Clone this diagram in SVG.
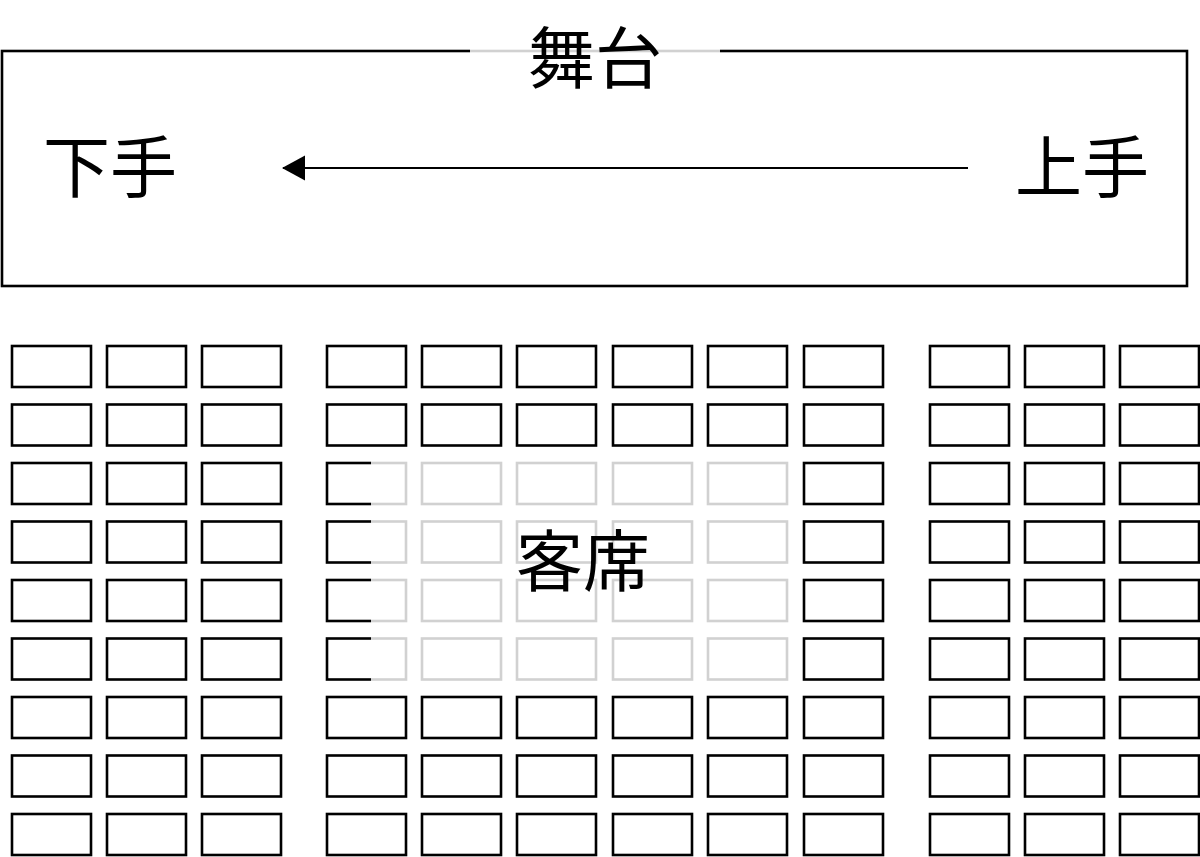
<svg xmlns="http://www.w3.org/2000/svg" xmlns:xlink="http://www.w3.org/1999/xlink" width="1200" height="857" viewBox="0 0 1200 857">
<style>
.seat{fill:none;stroke:#000;stroke-width:2.6}
.frame{fill:none;stroke:#000;stroke-width:2.6}
.veil{fill:#fff;fill-opacity:0.82}
.lbl{font-family:"Noto Sans CJK JP","Noto Sans CJK SC",sans-serif;font-size:67px;fill:#000;text-anchor:middle}
</style>
<defs>
<marker id="ah" markerWidth="24" markerHeight="26" refX="22" refY="13" orient="auto" markerUnits="userSpaceOnUse">
<path d="M0,0.5 L23,13 L0,25.5 Z" fill="#000"/>
</marker>
<rect id="s" width="79" height="41" class="seat"/>
<g id="row">
<use xlink:href="#s" x="12"/><use xlink:href="#s" x="107"/><use xlink:href="#s" x="202"/>
<use xlink:href="#s" x="327"/><use xlink:href="#s" x="422"/><use xlink:href="#s" x="517"/><use xlink:href="#s" x="613"/><use xlink:href="#s" x="708"/><use xlink:href="#s" x="804"/>
<use xlink:href="#s" x="930"/><use xlink:href="#s" x="1025"/><use xlink:href="#s" x="1120"/>
</g>
</defs>
<rect width="1200" height="857" fill="#fff"/>
<g id="stage">
<rect class="frame" x="2" y="51" width="1185" height="235"/>
</g>
<g id="seats">
<use xlink:href="#row" y="346"/>
<use xlink:href="#row" y="404.5"/>
<use xlink:href="#row" y="463"/>
<use xlink:href="#row" y="521.5"/>
<use xlink:href="#row" y="580"/>
<use xlink:href="#row" y="638.5"/>
<use xlink:href="#row" y="697"/>
<use xlink:href="#row" y="755.5"/>
<use xlink:href="#row" y="814"/>
</g>
<g id="connectors">
<line x1="968" y1="168" x2="283" y2="168" stroke="#000" stroke-width="2" marker-end="url(#ah)"/>
</g>
<g id="stage-label">
<rect class="veil" x="470" y="0" width="250" height="100"/>
<text class="lbl" x="595" y="83">舞台</text>
</g>
<g id="audience-label">
<rect class="veil" x="371" y="455" width="420" height="226"/>
<text class="lbl" x="583" y="586">客席</text>
</g>
<g id="shimote">
<text class="lbl" x="110" y="192">下手</text>
</g>
<g id="kamite">
<text class="lbl" x="1082" y="192">上手</text>
</g>
</svg>
